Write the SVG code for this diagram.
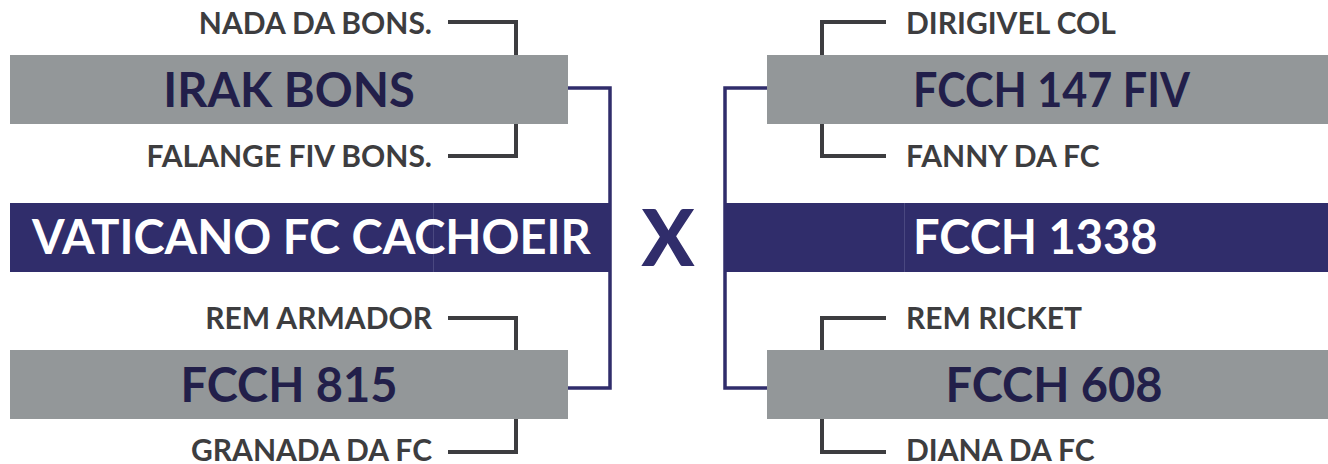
<svg xmlns="http://www.w3.org/2000/svg" width="1328" height="464" viewBox="0 0 1328 464">
<style>
.gray{fill:#939799}
.navy{fill:#302d6b}
.big{font-family:Lato,"Liberation Sans",sans-serif;font-weight:700;font-size:47px}
.dark{fill:#221f4a}
.white{fill:#ffffff}
.small{font-family:Lato,"Liberation Sans",sans-serif;font-weight:700;font-size:30px;fill:#3d3d3f}
.br{fill:none;stroke:#3d3d40;stroke-width:4}
.nv{fill:none;stroke:#302d6b;stroke-width:3.5}
.seam{stroke:#4a4880;stroke-width:1}
</style>
<rect width="1328" height="464" fill="#ffffff"/>
<g id="connectors">
<path class="br" d="M448 22H516V55"/>
<path class="br" d="M448 156H516V124"/>
<path class="br" d="M448 318H516V350"/>
<path class="br" d="M448 452H516V419"/>
<path class="br" d="M886 22H822V55"/>
<path class="br" d="M886 156H822V124"/>
<path class="br" d="M886 318H822V350"/>
<path class="br" d="M886 452H822V419"/>
<path class="nv" d="M568 88H610V388H568"/>
<path class="nv" d="M767 88H725V388H767"/>
</g>
<g id="irak-bons">
<rect class="gray" x="10" y="55" width="558" height="69"/>
<text class="big dark" x="289" y="107" text-anchor="middle">IRAK BONS</text>
</g>
<g id="nada-da-bons">
<text class="small" x="432" y="34" text-anchor="end">NADA DA BONS.</text>
</g>
<g id="falange-fiv-bons">
<text class="small" x="432" y="167" text-anchor="end">FALANGE FIV BONS.</text>
</g>
<g id="vaticano">
<rect class="navy" x="10" y="203" width="600" height="69"/>
<line class="seam" x1="433.5" y1="203" x2="433.5" y2="272"/>
<text class="big white" x="32" y="254">VATICANO FC CACHOEIR</text>
</g>
<g id="rem-armador">
<text class="small" x="432" y="329" text-anchor="end">REM ARMADOR</text>
</g>
<g id="fcch-815">
<rect class="gray" x="10" y="350" width="558" height="69"/>
<text class="big dark" x="289" y="402" text-anchor="middle">FCCH 815</text>
</g>
<g id="granada-da-fc">
<text class="small" x="432" y="461" text-anchor="end">GRANADA DA FC</text>
</g>
<g id="versus">
<text x="668" y="266" text-anchor="middle" font-family="Lato,'Liberation Sans',sans-serif" font-weight="900" font-size="78" fill="#302d6b">X</text>
</g>
<g id="dirigivel-col">
<text class="small" x="906" y="34">DIRIGIVEL COL</text>
</g>
<g id="fcch-147-fiv">
<rect class="gray" x="767" y="55" width="561" height="69"/>
<text class="big dark" x="913" y="107" textLength="277" lengthAdjust="spacingAndGlyphs">FCCH 147 FIV</text>
</g>
<g id="fanny-da-fc">
<text class="small" x="906" y="167">FANNY DA FC</text>
</g>
<g id="fcch-1338">
<rect class="navy" x="726" y="203" width="602" height="69"/>
<line class="seam" x1="904.5" y1="203" x2="904.5" y2="272"/>
<text class="big white" x="913" y="254">FCCH 1338</text>
</g>
<g id="rem-ricket">
<text class="small" x="906" y="329">REM RICKET</text>
</g>
<g id="fcch-608">
<rect class="gray" x="767" y="350" width="561" height="69"/>
<text class="big dark" x="1054" y="402" text-anchor="middle">FCCH 608</text>
</g>
<g id="diana-da-fc">
<text class="small" x="906" y="461">DIANA DA FC</text>
</g>
</svg>
